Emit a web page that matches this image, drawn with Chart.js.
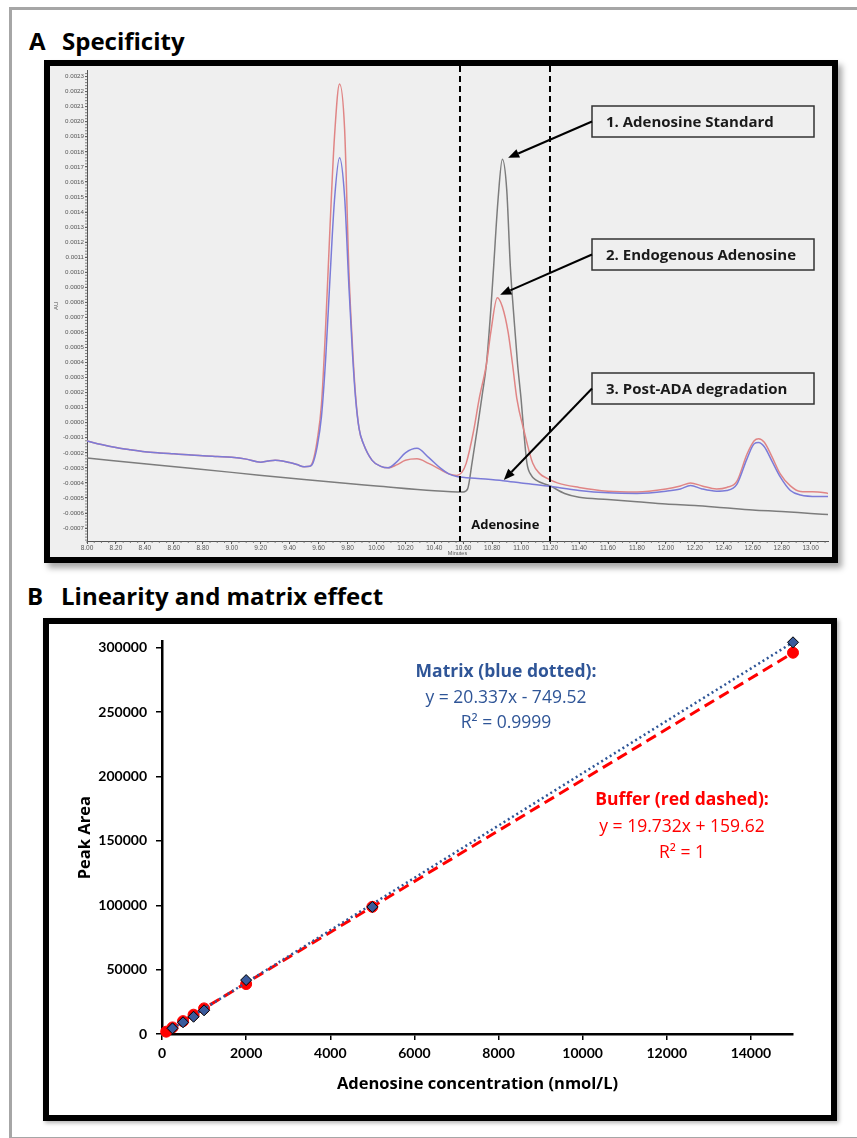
<!DOCTYPE html>
<html>
<head>
<meta charset="utf-8">
<script src="https://cdn.jsdelivr.net/npm/chart.js@4.4.1/dist/chart.umd.min.js"></script>
<style>
  body { margin: 0; width: 857px; height: 1138px; background: #fff; position: relative; overflow: hidden; font-family: "Open Sans", Lato, sans-serif; }
  .frame { position: absolute; left: 9px; top: 7px; width: 900px; height: 1127px; border: 3px solid #a6a6a6; border-right: none; }
  .title { position: absolute; font-weight: bold; font-size: 24px; color: #000; white-space: pre; line-height: 1; font-family: "Open Sans", sans-serif; }
  .panel { position: absolute; border: 6px solid #000; }
  #panelA { left: 44px; top: 60px; width: 782px; height: 491px; background: #efefef; box-shadow: 4px 5px 6px rgba(0,0,0,0.35); }
  #panelB { left: 43px; top: 618px; width: 782px; height: 491px; background: #fff; box-shadow: 2px 2px 4px rgba(0,0,0,0.3); }
  canvas { position: absolute; left: 0; top: 0; }
</style>
</head>
<body>
<div class="frame"></div>
<div class="title" style="left:29px; top:29px;">A</div>
<div class="title" style="left:62px; top:29px;">Specificity</div>
<div class="panel" id="panelA"><canvas id="specChart" width="782" height="491"></canvas></div>
<div class="title" style="left:27px; top:584px;">B</div>
<div class="title" style="left:61px; top:584px;">Linearity and matrix effect</div>
<div class="panel" id="panelB"><canvas id="linChart" width="782" height="491"></canvas></div>

<script>
// ---- Panel A : chromatogram (minutes vs AU) ----
const stdTime = [8.00, 8.50, 9.00, 9.50, 10.00, 10.40, 10.60, 10.63, 10.66, 10.70, 10.73, 10.76, 10.79, 10.81, 10.84, 10.87, 10.90, 10.925, 10.95, 10.975, 11.00, 11.02, 11.04, 11.07, 11.10, 11.20, 11.30, 11.40, 11.60, 11.80, 12.00, 12.20, 12.40, 12.60, 12.80, 13.00, 13.12];
const stdAbs = [-0.000235, -0.000283, -0.000330, -0.000378, -0.000420, -0.000452, -0.000460, -0.000440, -0.000270, -0.000020, 0.000180, 0.000390, 0.000750, 0.001040, 0.001480, 0.001750, 0.001550, 0.001040, 0.000700, 0.000390, 0.000150, -0.000080, -0.000270, -0.000350, -0.000380, -0.000420, -0.000470, -0.000495, -0.000510, -0.000525, -0.000540, -0.000550, -0.000565, -0.000580, -0.000590, -0.000603, -0.000610];

const endoTime = [8.00, 8.10, 8.20, 8.30, 8.40, 8.50, 8.60, 8.70, 8.80, 8.90, 9.00, 9.10, 9.20, 9.25, 9.30, 9.35, 9.40, 9.45, 9.50, 9.54, 9.56, 9.59, 9.62, 9.65, 9.68, 9.71, 9.745, 9.78, 9.81, 9.835, 9.855, 9.88, 9.91, 9.97, 10.03, 10.08, 10.14, 10.20, 10.28, 10.36, 10.44, 10.50, 10.555, 10.59, 10.62, 10.67, 10.71, 10.76, 10.79, 10.835, 10.87, 10.91, 10.94, 10.97, 11.02, 11.08, 11.13, 11.18, 11.25, 11.40, 11.60, 11.80, 12.00, 12.10, 12.17, 12.25, 12.35, 12.42, 12.49, 12.56, 12.61, 12.64, 12.68, 12.73, 12.79, 12.86, 12.93, 13.05, 13.12];
const endoAbs = [-0.000121, -0.000145, -0.000165, -0.000180, -0.000193, -0.000201, -0.000207, -0.000213, -0.000220, -0.000225, -0.000230, -0.000242, -0.000262, -0.000255, -0.000250, -0.000254, -0.000265, -0.000278, -0.000292, -0.000290, -0.000260, -0.000120, 0.000120, 0.000660, 0.001320, 0.001900, 0.002250, 0.001950, 0.001000, 0.000500, 0.000190, -0.000040, -0.000140, -0.000250, -0.000290, -0.000300, -0.000280, -0.000250, -0.000240, -0.000270, -0.000310, -0.000340, -0.000350, -0.000330, -0.000270, -0.000060, 0.000160, 0.000390, 0.000600, 0.000830, 0.000770, 0.000600, 0.000390, 0.000160, -0.000055, -0.000270, -0.000340, -0.000370, -0.000400, -0.000430, -0.000455, -0.000460, -0.000440, -0.000420, -0.000400, -0.000420, -0.000440, -0.000430, -0.000390, -0.000210, -0.000120, -0.000106, -0.000130, -0.000220, -0.000340, -0.000420, -0.000457, -0.000460, -0.000470];

const adaTime = [8.00, 8.10, 8.20, 8.30, 8.40, 8.50, 8.60, 8.70, 8.80, 8.90, 9.00, 9.10, 9.20, 9.25, 9.30, 9.35, 9.40, 9.45, 9.50, 9.54, 9.56, 9.59, 9.62, 9.65, 9.68, 9.71, 9.745, 9.78, 9.81, 9.835, 9.855, 9.88, 9.91, 9.97, 10.03, 10.08, 10.14, 10.20, 10.28, 10.36, 10.44, 10.50, 10.555, 10.70, 10.875, 11.00, 11.18, 11.40, 11.60, 11.80, 12.00, 12.10, 12.17, 12.25, 12.35, 12.42, 12.49, 12.56, 12.61, 12.64, 12.68, 12.73, 12.79, 12.86, 12.93, 13.05, 13.12];
const adaAbs = [-0.000121, -0.000145, -0.000165, -0.000180, -0.000193, -0.000201, -0.000207, -0.000213, -0.000220, -0.000225, -0.000230, -0.000242, -0.000262, -0.000255, -0.000250, -0.000254, -0.000265, -0.000278, -0.000292, -0.000290, -0.000270, -0.000160, 0.000040, 0.000440, 0.000980, 0.001480, 0.001760, 0.001500, 0.000900, 0.000450, 0.000170, -0.000040, -0.000140, -0.000250, -0.000290, -0.000300, -0.000260, -0.000200, -0.000170, -0.000230, -0.000300, -0.000340, -0.000358, -0.000370, -0.000385, -0.000400, -0.000420, -0.000450, -0.000466, -0.000470, -0.000455, -0.000440, -0.000417, -0.000440, -0.000455, -0.000450, -0.000410, -0.000240, -0.000140, -0.000132, -0.000160, -0.000250, -0.000360, -0.000450, -0.000480, -0.000490, -0.000490];

const specTicksX = [8.00, 8.20, 8.40, 8.60, 8.80, 9.00, 9.20, 9.40, 9.60, 9.80, 10.00, 10.20, 10.40, 10.60, 10.80, 11.00, 11.20, 11.40, 11.60, 11.80, 12.00, 12.20, 12.40, 12.60, 12.80, 13.00];
const specTicksY = [-0.0007, -0.0006, -0.0005, -0.0004, -0.0003, -0.0002, -0.0001, 0, 0.0001, 0.0002, 0.0003, 0.0004, 0.0005, 0.0006, 0.0007, 0.0008, 0.0009, 0.0010, 0.0011, 0.0012, 0.0013, 0.0014, 0.0015, 0.0016, 0.0017, 0.0018, 0.0019, 0.0020, 0.0021, 0.0022, 0.0023];

const adenosineWindow = [10.58, 11.2];
const calloutLabels = ['1. Adenosine Standard', '2. Endogenous Adenosine', '3. Post-ADA degradation'];
const calloutTargets = [[10.91, 0.00176], [10.855, 0.00085], [10.88, -0.00038]];

// ---- Panel B : calibration ----
const matrixConc = [250, 500, 750, 1000, 2000, 5000, 15000];
const matrixArea = [4400, 9100, 13400, 18400, 41900, 98700, 304300];
const bufferConc = [100, 250, 500, 750, 1000, 2000, 5000, 15000];
const bufferArea = [1800, 5100, 10000, 15000, 19900, 38800, 98800, 296200];
const matrixFit = [20.337, -749.52];   // slope, intercept
const bufferFit = [19.732, 159.62];
const linTicksX = [0, 2000, 4000, 6000, 8000, 10000, 12000, 14000];
const linTicksY = [0, 50000, 100000, 150000, 200000, 250000, 300000];

const pts = (xs, ys) => xs.map((v, i) => ({ x: v, y: ys[i] }));
const fitLine = (xs, f) => [xs[0], xs[xs.length - 1]].map(v => ({ x: v, y: f[0] * v + f[1] }));

function drawArrow(ctx, x1, y1, x2, y2) {
  const a = Math.atan2(y2 - y1, x2 - x1);
  const hl = 11, hw = 4.5;
  const bx = x2 - hl * Math.cos(a), by = y2 - hl * Math.sin(a);
  ctx.beginPath(); ctx.moveTo(x1, y1); ctx.lineTo(bx, by); ctx.stroke();
  ctx.beginPath();
  ctx.moveTo(x2, y2);
  ctx.lineTo(bx + hw * Math.sin(a), by - hw * Math.cos(a));
  ctx.lineTo(bx - hw * Math.sin(a), by + hw * Math.cos(a));
  ctx.closePath(); ctx.fill();
}

const minorTicks = {
  id: 'minorTicks',
  afterDraw(chart) {
    const { ctx, chartArea, scales: { x, y } } = chart;
    ctx.save();
    ctx.strokeStyle = '#666'; ctx.lineWidth = 0.8;
    ctx.beginPath();
    for (let i = 0; i <= 102; i++) {
      const px = x.getPixelForValue(8 + i * 0.05);
      if (px > chartArea.right) break;
      ctx.moveTo(px, chartArea.bottom); ctx.lineTo(px, chartArea.bottom + 2);
    }
    for (let i = -39; i <= 117; i++) {
      const py = y.getPixelForValue(i * 0.00002);
      if (py < chartArea.top) break;
      ctx.moveTo(chartArea.left - 2, py); ctx.lineTo(chartArea.left, py);
    }
    ctx.stroke();
    ctx.restore();
  }
};

const specOverlay = {
  id: 'specOverlay',
  afterDatasetsDraw(chart) {
    const { ctx, chartArea, scales: { x, y } } = chart;
    ctx.save();
    ctx.strokeStyle = '#000'; ctx.lineWidth = 2; ctx.setLineDash([6, 4]);
    adenosineWindow.forEach(t => {
      const px = Math.round(x.getPixelForValue(t));
      ctx.beginPath(); ctx.moveTo(px, 0); ctx.lineTo(px, chartArea.bottom); ctx.stroke();
    });
    ctx.setLineDash([]);
    ctx.fillStyle = '#111'; ctx.font = 'bold 13px "Open Sans"'; ctx.textAlign = 'center'; ctx.textBaseline = 'middle';
    ctx.fillText('Adenosine', x.getPixelForValue((adenosineWindow[0] + adenosineWindow[1]) / 2), 459);

    const boxTop = [40, 173, 307];
    calloutLabels.forEach((label, i) => {
      const bx = 542, by = boxTop[i], bw = 222, bh = 31;
      ctx.fillStyle = '#efefef'; ctx.fillRect(bx, by, bw, bh);
      ctx.strokeStyle = '#333'; ctx.lineWidth = 1.5; ctx.strokeRect(bx, by, bw, bh);
      ctx.fillStyle = '#1a1a1a'; ctx.textAlign = 'left'; ctx.font = 'bold 15px "Open Sans"';
      ctx.fillText(label, bx + 14, by + bh / 2 + 1);
      ctx.strokeStyle = '#000'; ctx.fillStyle = '#000'; ctx.lineWidth = 2;
      drawArrow(ctx, bx, by + bh / 2, x.getPixelForValue(calloutTargets[i][0]), y.getPixelForValue(calloutTargets[i][1]));
    });
    ctx.restore();
  }
};

new Chart(document.getElementById('specChart'), {
  type: 'line',
  data: {
    datasets: [
      { data: pts(adaTime, adaAbs), borderColor: '#7b7bd8' },
      { data: pts(endoTime, endoAbs), borderColor: '#e08585' },
      { data: pts(stdTime, stdAbs), borderColor: '#7c7c7c' }
    ]
  },
  options: {
    responsive: false,
    animation: false,
    layout: { padding: { left: 0, right: 4, top: 0, bottom: 0 } },
    plugins: { legend: { display: false }, tooltip: { enabled: false } },
    elements: { point: { radius: 0 }, line: { borderWidth: 1.5, cubicInterpolationMode: 'monotone', fill: false } },
    scales: {
      x: {
        type: 'linear', min: 8, max: 13.12,
        afterBuildTicks: s => { s.ticks = specTicksX.map(v => ({ value: v })); },
        afterFit: s => { s.height = 16; },
        grid: { display: true, drawOnChartArea: false, tickLength: 3, color: '#555' },
        border: { color: '#555', width: 1 },
        ticks: { font: { size: 6.5, family: 'Liberation Sans' }, color: '#555', padding: 0, maxRotation: 0, autoSkip: false, callback: v => Number(v).toFixed(2) },
        title: { display: true, text: 'Minutes', font: { size: 5.5, family: 'Liberation Sans' }, color: '#555', padding: 0 }
      },
      y: {
        type: 'linear', min: -0.000786, max: 0.002339,
        afterBuildTicks: s => { s.ticks = specTicksY.map(v => ({ value: v })); },
        afterFit: s => { s.width = 37; },
        grid: { display: true, drawOnChartArea: false, tickLength: 2, color: '#555' },
        border: { color: '#555', width: 1 },
        ticks: { font: { size: 6.2, family: 'Liberation Sans' }, color: '#555', padding: 1, autoSkip: false, callback: v => Number(v).toFixed(4) },
        title: { display: true, text: 'AU', font: { size: 6, family: 'Liberation Sans' }, color: '#555', padding: { top: 3 } }
      }
    }
  },
  plugins: [minorTicks, specOverlay]
});

// ---- Panel B chart ----
const linOverlay = {
  id: 'linOverlay',
  afterDraw(chart) {
    const { ctx } = chart;
    ctx.save();
    ctx.textAlign = 'center'; ctx.textBaseline = 'middle';
    ctx.fillStyle = '#2f5597';
    ctx.font = 'bold 17.5px "Open Sans"'; ctx.fillText('Matrix (blue dotted):', 457, 48);
    ctx.font = '17.5px "Open Sans"';
    ctx.fillText('y = ' + matrixFit[0] + 'x - ' + Math.abs(matrixFit[1]), 457, 74);
    ctx.fillText('R\u00b2 = 0.9999', 457, 99);
    ctx.fillStyle = '#ff0000';
    ctx.font = 'bold 17.5px "Open Sans"'; ctx.fillText('Buffer (red dashed):', 633, 176);
    ctx.font = '17.5px "Open Sans"';
    ctx.fillText('y = ' + bufferFit[0] + 'x + ' + bufferFit[1], 633, 203);
    ctx.fillText('R\u00b2 = 1', 633, 229);
    ctx.restore();
  }
};

new Chart(document.getElementById('linChart'), {
  type: 'scatter',
  data: {
    datasets: [
      { data: pts(matrixConc, matrixArea), pointStyle: 'rectRot', pointRadius: 5.5, backgroundColor: '#3a5b9c', borderColor: '#000', borderWidth: 1, order: 0, clip: false },
      { data: fitLine(matrixConc, matrixFit), showLine: true, pointRadius: 0, borderColor: '#2f5597', borderWidth: 2.5, borderDash: [2, 3], order: 1, clip: false },
      { data: fitLine(bufferConc, bufferFit), showLine: true, pointRadius: 0, borderColor: '#ff0000', borderWidth: 3, borderDash: [11, 6], order: 2, clip: false },
      { data: pts(bufferConc, bufferArea), pointStyle: 'circle', pointRadius: 5.5, backgroundColor: '#ff0000', borderColor: '#ff0000', borderWidth: 1, order: 3, clip: false }
    ]
  },
  options: {
    responsive: false,
    animation: false,
    layout: { padding: { left: 0, right: 38, top: 16.5, bottom: 0 } },
    plugins: { legend: { display: false }, tooltip: { enabled: false } },
    scales: {
      x: {
        type: 'linear', min: 0, max: 15000,
        afterBuildTicks: s => { s.ticks = linTicksX.map(v => ({ value: v })); },
        afterFit: s => { s.height = 81; },
        grid: { display: true, drawOnChartArea: false, tickLength: 6, color: '#000', lineWidth: 1.5 },
        border: { color: '#000', width: 2.5 },
        ticks: { font: { size: 14, weight: 'bold', family: 'Lato' }, color: '#000', padding: 5, maxRotation: 0, autoSkip: false, callback: v => String(v) },
        title: { display: true, text: 'Adenosine concentration (nmol/L)', font: { size: 16.5, weight: 'bold', family: 'Open Sans' }, color: '#000', padding: { top: 4, bottom: 21 } }
      },
      y: {
        type: 'linear', min: 0, max: 305000,
        afterBuildTicks: s => { s.ticks = linTicksY.map(v => ({ value: v })); },
        afterFit: s => { s.width = 113; },
        grid: { display: true, drawOnChartArea: false, tickLength: 6, color: '#000', lineWidth: 1.5 },
        border: { color: '#000', width: 2.5 },
        ticks: { font: { size: 14, weight: 'bold', family: 'Lato' }, color: '#000', padding: 9, autoSkip: false, callback: v => String(v) },
        title: { display: true, text: 'Peak Area', font: { size: 16.5, weight: 'bold', family: 'Open Sans' }, color: '#000', padding: { top: 26, bottom: 0 } }
      }
    }
  },
  plugins: [linOverlay]
});
</script>
</body>
</html>
